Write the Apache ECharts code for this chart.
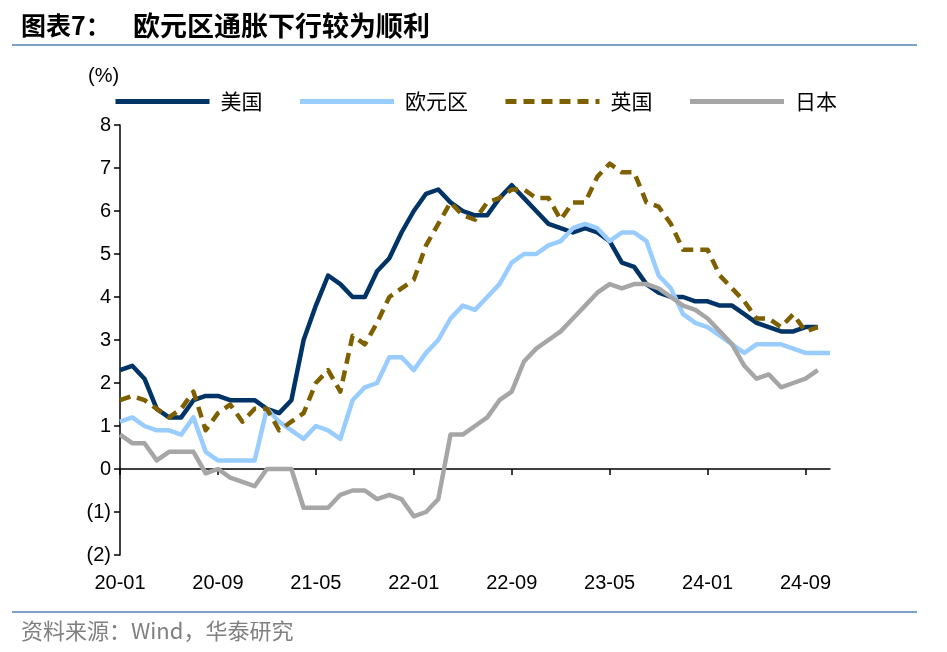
<!DOCTYPE html>
<html><head><meta charset="utf-8">
<script src="https://cdn.jsdelivr.net/npm/echarts@6/dist/echarts.min.js"></script>
<style>html,body{margin:0;padding:0;background:#fff}#c{width:947px;height:652px}</style>
</head><body><div id="c"></div>
<script>
const months = ['20-01','20-02','20-03','20-04','20-05','20-06','20-07','20-08','20-09','20-10','20-11','20-12',
'21-01','21-02','21-03','21-04','21-05','21-06','21-07','21-08','21-09','21-10','21-11','21-12',
'22-01','22-02','22-03','22-04','22-05','22-06','22-07','22-08','22-09','22-10','22-11','22-12',
'23-01','23-02','23-03','23-04','23-05','23-06','23-07','23-08','23-09','23-10','23-11','23-12',
'24-01','24-02','24-03','24-04','24-05','24-06','24-07','24-08','24-09','24-10','24-11'];
const us = [2.3,2.4,2.1,1.4,1.2,1.2,1.6,1.7,1.7,1.6,1.6,1.6,
1.4,1.3,1.6,3.0,3.8,4.5,4.3,4.0,4.0,4.6,4.9,5.5,
6.0,6.4,6.5,6.2,6.0,5.9,5.9,6.3,6.6,6.3,6.0,5.7,
5.6,5.5,5.6,5.5,5.3,4.8,4.7,4.3,4.1,4.0,4.0,3.9,
3.9,3.8,3.8,3.6,3.4,3.3,3.2,3.2,3.3,3.3,null];
const euro = [1.1,1.2,1.0,0.9,0.9,0.8,1.2,0.4,0.2,0.2,0.2,0.2,
1.4,1.1,0.9,0.7,1.0,0.9,0.7,1.6,1.9,2.0,2.6,2.6,
2.3,2.7,3.0,3.5,3.8,3.7,4.0,4.3,4.8,5.0,5.0,5.2,
5.3,5.6,5.7,5.6,5.3,5.5,5.5,5.3,4.5,4.2,3.6,3.4,
3.3,3.1,2.9,2.7,2.9,2.9,2.9,2.8,2.7,2.7,2.7];
const uk = [1.6,1.7,1.6,1.4,1.2,1.4,1.8,0.9,1.3,1.5,1.1,1.4,
1.4,0.9,1.1,1.3,2.0,2.3,1.8,3.1,2.9,3.4,4.0,4.2,
4.4,5.2,5.7,6.2,5.9,5.8,6.2,6.3,6.5,6.5,6.3,6.3,
5.8,6.2,6.2,6.8,7.1,6.9,6.9,6.2,6.1,5.7,5.1,5.1,
5.1,4.5,4.2,3.9,3.5,3.5,3.3,3.6,3.2,3.3,null];
const japan = [0.8,0.6,0.6,0.2,0.4,0.4,0.4,-0.1,0.0,-0.2,-0.3,-0.4,
0.0,0.0,0.0,-0.9,-0.9,-0.9,-0.6,-0.5,-0.5,-0.7,-0.6,-0.7,
-1.1,-1.0,-0.7,0.8,0.8,1.0,1.2,1.6,1.8,2.5,2.8,3.0,
3.2,3.5,3.8,4.1,4.3,4.2,4.3,4.3,4.2,4.0,3.8,3.7,
3.5,3.2,2.9,2.4,2.1,2.2,1.9,2.0,2.1,2.3,null];
const seriesNames = ['美国','欧元区','英国','日本'];

const chart = echarts.init(document.getElementById('c'));
const numFont = 'Liberation Sans, Arial, sans-serif';
const cjkFont = 'Noto Sans CJK SC, sans-serif';
function mk(name, data, color, type) {
  return {name, type:'line', data, xAxisIndex:0, showSymbol:false, symbol:'none', connectNulls:false,
    lineStyle:{color, width:4.5, type: type || 'solid', cap:'butt', join:'round'}, itemStyle:{color}, z: 2};
}
chart.setOption({
  animation:false,
  legend:{left:113, top:91, padding:0, itemWidth:94, itemHeight:14, itemGap:35,
    itemStyle:{opacity:0, borderWidth:0},
    lineStyle:{width:5},
    textStyle:{fontFamily:cjkFont, fontSize:21, color:'#000', padding:[0,0,0,6]},
    data:seriesNames},
  grid:{left:120, right:117, top:125, bottom:97, containLabel:false},
  xAxis:[{type:'category', data:months, boundaryGap:false, position:'bottom',
      axisLine:{show:false, onZero:false}, axisTick:{show:false},
      axisLabel:{interval:7, fontFamily:numFont, fontSize:20, color:'#000', margin:18}, splitLine:{show:false}},
    {type:'category', data:months, boundaryGap:false, position:'bottom',
      axisLine:{show:true, onZero:true, lineStyle:{color:'#000', width:1.5}},
      axisTick:{show:true, interval:7, length:6, inside:false, lineStyle:{color:'#000', width:1.5}},
      axisLabel:{show:false}, splitLine:{show:false}}],
  yAxis:{type:'value', min:-2, max:8, interval:1,
    axisLine:{show:true, lineStyle:{color:'#000', width:1.5}},
    axisTick:{show:true, length:6, lineStyle:{color:'#000', width:1.5}},
    axisLabel:{fontFamily:numFont, fontSize:20, color:'#000', margin:9,
      formatter: v => v < 0 ? '(' + (-v) + ')' : String(v)},
    splitLine:{show:false}},
  graphic:[
    {type:'text', left:21, top:13, style:{text:'图表7：', font:'bold 25px Noto Sans CJK SC, sans-serif', fill:'#000'}},
    {type:'text', left:133, top:12, style:{text:'欧元区通胀下行较为顺利', font:'bold 27px Noto Sans CJK SC, sans-serif', fill:'#000'}},
    {type:'line', shape:{x1:12, y1:45, x2:917, y2:45}, style:{stroke:'#809fc4', lineWidth:2}},
    {type:'line', shape:{x1:12, y1:612, x2:917, y2:612}, style:{stroke:'#809fc4', lineWidth:2}},
    {type:'text', left:88, top:66, style:{text:'(%)', font:'20px Liberation Sans, Arial, sans-serif', fill:'#000'}},
    {type:'text', left:21, top:620, style:{text:'资料来源：Wind，华泰研究', font:'22px Noto Sans CJK SC, sans-serif', fill:'#808080'}}
  ],
  series:[
    mk(seriesNames[0], us, '#003366'),
    mk(seriesNames[1], euro, '#99ccff'),
    mk(seriesNames[2], uk, '#7f6000', [11,7]),
    mk(seriesNames[3], japan, '#a6a6a6')
  ]
});
</script></body></html>
